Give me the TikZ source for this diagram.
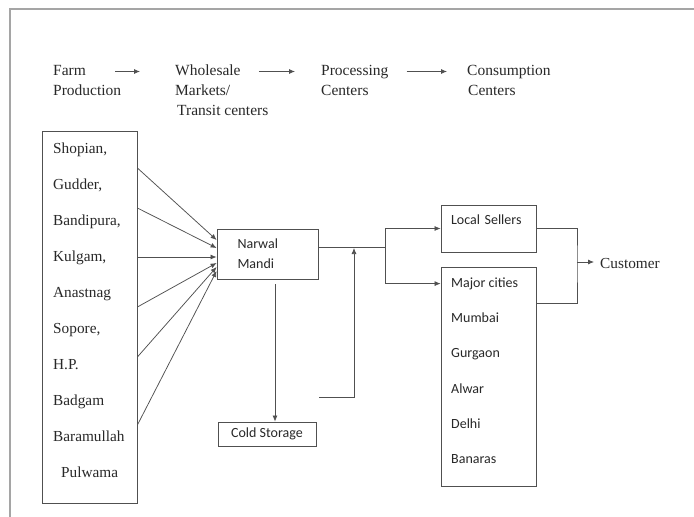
\documentclass[tikz,border=0pt]{standalone}
\usepackage{fontspec}
\setmainfont{Liberation Serif}
\newfontfamily\carlito{Carlito}
\usetikzlibrary{arrows.meta,positioning,calc}
\definecolor{ink}{RGB}{40,40,40}
\definecolor{rule}{RGB}{80,80,80}
\definecolor{framegray}{RGB}{165,165,165}
\tikzset{
  head/.style  = {font=\fontsize{15.5}{20}\selectfont, text=ink, inner sep=0pt,
                  text height=10.5pt, text depth=3.5pt},
  place/.style = {font=\fontsize{15.3}{18}\selectfont, text=ink, inner sep=0pt},
  city/.style  = {font=\carlito\fontsize{14}{17}\selectfont, text=ink, inner sep=0pt},
  box/.style   = {draw=rule, line width=0.8pt, fill=white, inner sep=0pt},
  flow/.style  = {-{Latex[length=6pt,width=5pt]}, draw=rule, line width=0.75pt},
  link/.style  = {draw=rule, line width=0.75pt},
}

\begin{document}
\begin{tikzpicture}[x=1pt, y=-1pt]
\useasboundingbox (0,0) rectangle (694,517);
\draw[framegray, line width=1.5pt] (694,9) -- (10,9) -- (10,517);

% stages of the chain
\node[head, anchor=base west] (farm)  at (53,75)  {Farm};
\node[head, anchor=base west] (whole) at (175,75) {Wholesale};
\node[head, anchor=base west] (proc)  at (321,75) {Processing};
\node[head, anchor=base west] (cons)  at (467,75) {Consumption};
\node[head, anchor=base west] (farmb)  at ([yshift=-20pt]farm.base west)  {Production};
\node[head, anchor=base west] (wholeb) at ([yshift=-20pt]whole.base west) {Markets/};
\node[head, anchor=base west] (wholec) at ([xshift=2pt,yshift=-40pt]whole.base west) {Transit centers};
\node[head, anchor=base west] (procb)  at ([yshift=-20pt]proc.base west)  {Centers};
\node[head, anchor=base west] (consb)  at ([xshift=1pt,yshift=-20pt]cons.base west) {Centers};

\draw[flow] ([xshift=29pt]farm.east)  -- ([xshift=-35pt]whole.west);
\draw[flow] ([xshift=18pt]whole.east) -- ([xshift=-26pt]proc.west);
\draw[flow] ([xshift=18pt]proc.east)  -- ([xshift=-20pt]cons.west);

% producing areas
\node[box, minimum width=95pt, minimum height=372pt] (src) at (89.5,317) {};
\foreach \name/\dx [count=\i from 0] in {{Shopian,}/0, {Gudder,}/0, {Bandipura,}/0,
    {Kulgam,}/0, Anastnag/0, {Sopore,}/0, H.P./0, Badgam/0, Baramullah/0, Pulwama/8}
  \node[place, anchor=base west] (p\i) at ({53+\dx}, {153+36.1*\i}) {\name};

% mandi and cold storage
\node[box, font=\carlito\fontsize{14}{20}\selectfont, text=ink, align=left,
      text width=60pt, inner xsep=20.5pt, minimum height=50pt] (mandi) at (267.5,254) {Narwal\\Mandi};
\node[box, font=\carlito\fontsize{14}{17}\selectfont, text=ink,
      minimum width=98pt, minimum height=24pt] (cold) at (267,434) {Cold Storage};

\foreach \ys/\ye in {168/240, 208/248, 257/257, 307/263, 357/267, 425/271}
  \draw[flow] (src.east |- 0,\ys) -- (mandi.west |- 0,\ye);

\coordinate (split) at (385,247);
\coordinate (ret)   at (319,397);
\coordinate (merge) at (354,248);
\draw[link] (mandi.east |- split) -- (split);
\draw[flow] ([xshift=7.5pt,yshift=-5pt]mandi.south) -- ([xshift=7.5pt]mandi.south |- cold.north);
\draw[flow] (ret) -| (merge);

% consumption centers
\node[box, city, align=left, text width=75pt, inner xsep=10pt, inner ysep=0pt,
      text height=19.5pt, text depth=27.5pt] (local) at (488.5,228.5) {Local Sellers};
\node[box, minimum width=95pt, minimum height=219pt] (major) at (488.5,376.5) {};
\foreach \name [count=\i from 0] in {Major cities, Mumbai, Gurgaon, Alwar, Delhi, Banaras}
  \node[city, anchor=base west] (c\i) at (451, {287.5+35.2*\i}) {\name};

\draw[flow] (split) |- (local.west);
\draw[flow] (split) |- ([yshift=-17pt]major.north west);

% to the customer
\coordinate (gather) at (577,262);
\node[place, anchor=west] (cust) at (600,264) {Customer};
\draw[link] (local.east) -| (gather) |- ([yshift=-37pt]major.north east);
\draw[flow] (gather) -- ($(gather -| cust.west)+(-6pt,0)$);
\end{tikzpicture}
\end{document}
